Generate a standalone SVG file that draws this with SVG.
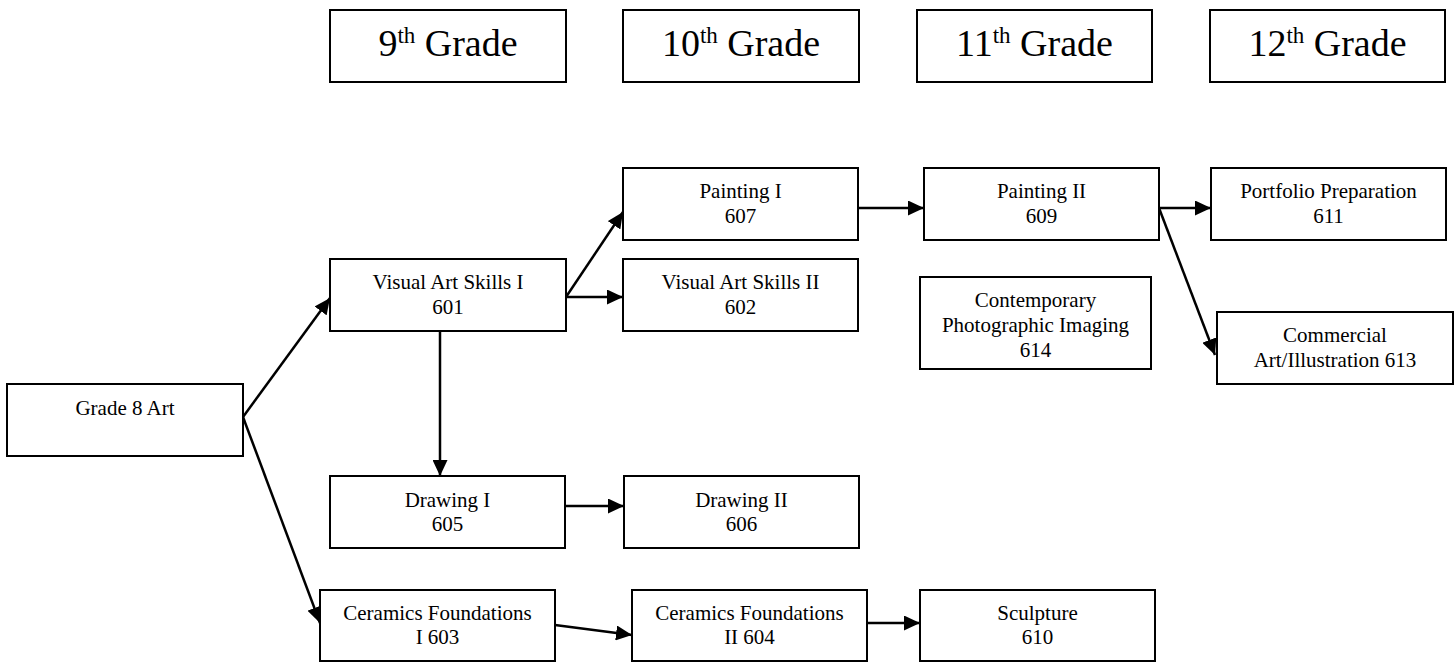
<svg xmlns="http://www.w3.org/2000/svg" width="1455" height="662" viewBox="0 0 1455 662">
<defs>
<style>
rect{fill:#fff;stroke:#000;stroke-width:2}
text{font-family:'Liberation Serif','DejaVu Serif',serif;fill:#000;text-anchor:middle}
.n{font-size:21px}
.h{font-size:38px}
.s{font-size:23px}
.c line{stroke:#000;stroke-width:2.5;marker-end:url(#ah)}
</style>
<marker id="ah" markerUnits="userSpaceOnUse" markerWidth="16" markerHeight="15" refX="16" refY="7.5" orient="auto">
<path d="M0,0 L16,7.5 L0,15 z" fill="#000"/>
</marker>
</defs>
<rect x="0" y="0" width="1455" height="662" style="fill:#fff;stroke:none"/>
<g id="h9"><rect x="330" y="10" width="236" height="72"/><text class="h" x="448" y="56" font-family="Liberation Serif, serif">9<tspan class="s" dy="-13">th</tspan><tspan dy="13"> Grade</tspan></text></g>
<g id="h10"><rect x="623" y="10" width="236" height="72"/><text class="h" x="741" y="56" font-family="Liberation Serif, serif">10<tspan class="s" dy="-13">th</tspan><tspan dy="13"> Grade</tspan></text></g>
<g id="h11"><rect x="917" y="10" width="235" height="72"/><text class="h" x="1034.5" y="56" font-family="Liberation Serif, serif">11<tspan class="s" dy="-13">th</tspan><tspan dy="13"> Grade</tspan></text></g>
<g id="h12"><rect x="1210" y="10" width="235" height="72"/><text class="h" x="1327.5" y="56" font-family="Liberation Serif, serif">12<tspan class="s" dy="-13">th</tspan><tspan dy="13"> Grade</tspan></text></g>

<g class="c" id="connectors">
<line x1="243" y1="417" x2="330" y2="298"/>
<line x1="243" y1="417" x2="320" y2="623"/>
<line x1="566" y1="297" x2="623" y2="212"/>
<line x1="566" y1="297" x2="623" y2="297"/>
<line x1="440" y1="332" x2="440" y2="476"/>
<line x1="858" y1="208" x2="924" y2="208"/>
<line x1="1159" y1="208" x2="1211" y2="208"/>
<line x1="1159" y1="208" x2="1215" y2="355"/>
<line x1="565" y1="506" x2="624" y2="506"/>
<line x1="555" y1="625" x2="632" y2="635"/>
<line x1="867" y1="623" x2="920" y2="623"/>
</g>

<g id="grade8"><rect x="7" y="384" width="236" height="72"/><text class="n" x="125" y="415">Grade 8 Art</text></g>
<g id="vas1"><rect x="330" y="259" width="236" height="72"/><text class="n" x="448" y="289">Visual Art Skills I</text><text class="n" x="448" y="314">601</text></g>
<g id="p1"><rect x="623" y="168" width="235" height="72"/><text class="n" x="740.5" y="198">Painting I</text><text class="n" x="740.5" y="223">607</text></g>
<g id="vas2"><rect x="623" y="259" width="235" height="72"/><text class="n" x="740.5" y="289">Visual Art Skills II</text><text class="n" x="740.5" y="314">602</text></g>
<g id="p2"><rect x="924" y="168" width="235" height="72"/><text class="n" x="1041.5" y="198">Painting II</text><text class="n" x="1041.5" y="223">609</text></g>
<g id="portfolio"><rect x="1211" y="168" width="235" height="72"/><text class="n" x="1328.5" y="198">Portfolio Preparation</text><text class="n" x="1328.5" y="223">611</text></g>
<g id="photo"><rect x="920" y="277" width="231" height="92"/><text class="n" x="1035.5" y="307">Contemporary</text><text class="n" x="1035.5" y="332">Photographic Imaging</text><text class="n" x="1035.5" y="357">614</text></g>
<g id="commercial"><rect x="1217" y="312" width="236" height="72"/><text class="n" x="1335" y="342">Commercial</text><text class="n" x="1335" y="367">Art/Illustration 613</text></g>
<g id="d1"><rect x="330" y="476" width="235" height="72"/><text class="n" x="447.5" y="507">Drawing I</text><text class="n" x="447.5" y="531">605</text></g>
<g id="d2"><rect x="624" y="476" width="235" height="72"/><text class="n" x="741.5" y="507">Drawing II</text><text class="n" x="741.5" y="531">606</text></g>
<g id="c1"><rect x="320" y="590" width="235" height="71"/><text class="n" x="437.5" y="620">Ceramics Foundations</text><text class="n" x="437.5" y="644">I  603</text></g>
<g id="c2"><rect x="632" y="590" width="235" height="71"/><text class="n" x="749.5" y="620">Ceramics Foundations</text><text class="n" x="749.5" y="644">II  604</text></g>
<g id="sculpture"><rect x="920" y="590" width="235" height="71"/><text class="n" x="1037.5" y="620">Sculpture</text><text class="n" x="1037.5" y="644">610</text></g>
</svg>
